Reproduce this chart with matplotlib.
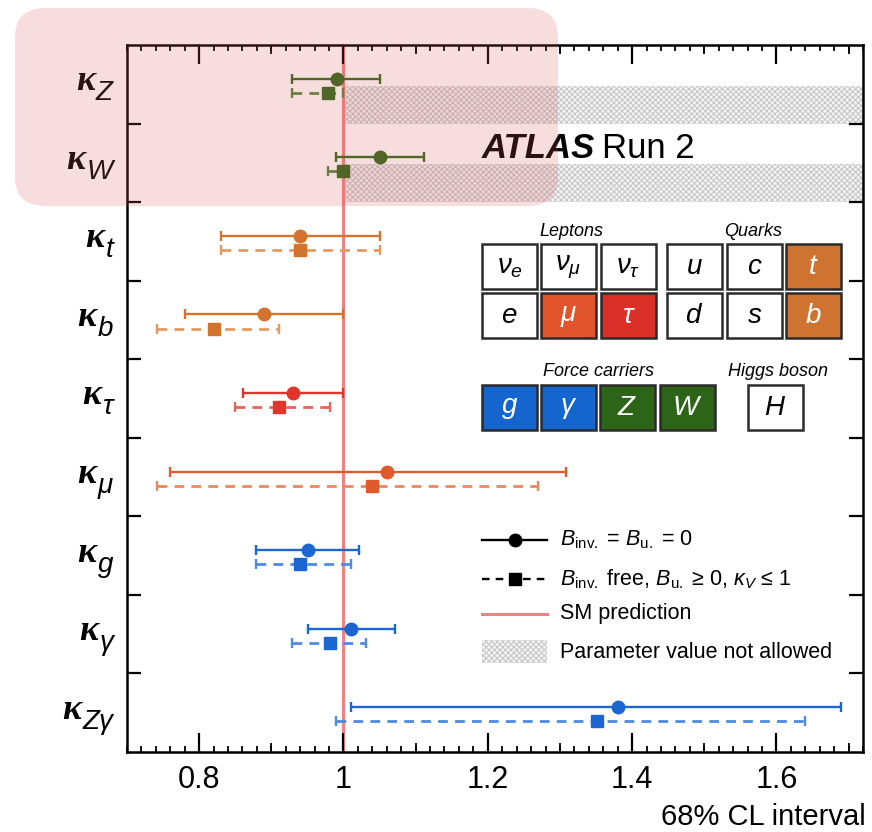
import matplotlib
matplotlib.use("Agg")
import matplotlib.pyplot as plt
import matplotlib.transforms as mtransforms
from matplotlib.patches import Rectangle, FancyBboxPatch
from matplotlib.lines import Line2D

plt.rcParams['font.family'] = ['Liberation Sans', 'DejaVu Sans']
plt.rcParams['mathtext.fontset'] = 'custom'
plt.rcParams['mathtext.rm'] = 'Liberation Sans'
plt.rcParams['mathtext.it'] = 'Liberation Sans:italic'
plt.rcParams['hatch.linewidth'] = 0.7

# coupling modifiers, top to bottom
subs = ['Z', 'W', 't', 'b', 'τ', 'μ', 'g', 'γ', 'Zγ']
# B_inv. = B_u. = 0  (circles)
c_val = [0.991, 1.050, 0.940, 0.890, 0.930, 1.060, 0.951, 1.011, 1.381]
c_lo = [0.929, 0.990, 0.830, 0.780, 0.861, 0.760, 0.879, 0.951, 1.010]
c_hi = [1.051, 1.111, 1.051, 1.000, 1.000, 1.309, 1.021, 1.072, 1.690]
# B_inv. free, B_u. >= 0, kappa_V <= 1  (squares)
s_val = [0.979, 1.000, 0.940, 0.821, 0.911, 1.040, 0.940, 0.981, 1.351]
s_lo = [0.929, 0.979, 0.830, 0.741, 0.850, 0.741, 0.879, 0.929, 0.990]
s_hi = [1.000, 1.000, 1.051, 0.911, 0.981, 1.269, 1.011, 1.031, 1.640]
# kappa_V <= 1 -> values above 1 not allowed for these
not_allowed = ['Z', 'W']

green, orange, red, muorange, blue = '#2f6a1a', '#d2732f', '#e0352b', '#e05a2b', '#1b66d0'
colors = [green, green, orange, orange, red, muorange, blue, blue, blue]
dash_colors = ['#4f8a3a', '#4f8a3a', '#e39a62', '#e39a62', '#e8625a', '#ea8a5e', '#4d8ae0', '#4d8ae0', '#4d8ae0']

# particle table
lepton_top = ['$\\nu_e$', '$\\nu_\\mu$', '$\\nu_\\tau$']
lepton_bot = ['$e$', '$\\mu$', '$\\tau$']
quark_top = ['$u$', '$c$', '$t$']
quark_bot = ['$d$', '$s$', '$b$']
forces = ['$g$', '$\\gamma$', '$Z$', '$W$']
higgs = ['$H$']
lepton_top_c = ['white', 'white', 'white']
lepton_bot_c = ['white', '#e2552c', '#db3028']
quark_top_c = ['white', 'white', '#cf7330']
quark_bot_c = ['white', 'white', '#cf7330']
forces_c = ['#1565cf', '#1565cf', '#2c6518', '#2c6518']
higgs_c = ['white']

W, H = 872, 832
fig = plt.figure(figsize=(W / 100, H / 100), dpi=100)
ax = fig.add_axes([127 / W, 1 - 752 / H, 736 / W, 707 / H])

n = len(subs)
ycent = [n - 0.5 - i for i in range(n)]

ax.axvline(1.0, color='#f08282', lw=2.2, zorder=1)

for i in range(n):
    yc = ycent[i]
    ax.errorbar(c_val[i], yc + 0.07, xerr=[[c_val[i] - c_lo[i]], [c_hi[i] - c_val[i]]],
                fmt='o', color=colors[i], ms=9, lw=1.7, capsize=3.5, capthick=1.7, zorder=4)
    eb = ax.errorbar(s_val[i], yc - 0.11, xerr=[[s_val[i] - s_lo[i]], [s_hi[i] - s_val[i]]],
                     fmt='s', color=colors[i], ecolor=dash_colors[i], ms=9, lw=2.0,
                     capsize=3.5, capthick=1.7, zorder=4)
    eb[2][0].set_linestyle((0, (3.5, 2.6)))

xmin, xmax = 0.70, 1.72
for i, s in enumerate(subs):
    if s in not_allowed:
        ax.add_patch(Rectangle((1.0, ycent[i] - 0.5), xmax - 1.0, 0.48, facecolor='#f4f4f4',
                               edgecolor='#c4c4c4', hatch='xxxxxx', lw=0, zorder=0.5))

ax.set_xlim(xmin, xmax)
ax.set_ylim(0, n)
ax.set_xticks([0.8, 1.0, 1.2, 1.4, 1.6])
ax.set_xticklabels(['0.8', '1', '1.2', '1.4', '1.6'])
ax.set_xticks([0.70 + 0.02 * k for k in range(52)], minor=True)
ax.set_yticks(range(1, n))
ax.tick_params(axis='x', which='major', direction='in', length=14, width=1.6, top=True,
               labelsize=22, pad=9)
ax.tick_params(axis='x', which='minor', direction='in', length=4.5, width=1.3, top=True)
ax.tick_params(axis='y', which='major', direction='in', length=10, width=1.6, right=True,
               labelleft=False)
for sp in ax.spines.values():
    sp.set_linewidth(1.8)
# medium ticks at odd tenths
for xv in [0.9, 1.1, 1.3, 1.5, 1.7]:
    ax.vlines(xv, 0, 9 / 707, transform=ax.get_xaxis_transform(), color='black', lw=1.3, clip_on=False)
    ax.vlines(xv, 1 - 9 / 707, 1, transform=ax.get_xaxis_transform(), color='black', lw=1.3, clip_on=False)

# category labels: kappa + subscript, right aligned
renderer = fig.canvas.get_renderer()
base = mtransforms.blended_transform_factory(fig.transFigure, ax.transData)
for i, s in enumerate(subs):
    tsub = fig.text(113 / W, ycent[i], s, transform=mtransforms.offset_copy(base, fig=fig, y=-16, units='dots'),
                    ha='right', va='baseline', fontsize=20, style='italic')
    bb = tsub.get_window_extent(renderer)
    fig.text((bb.x0 - 1) / W, ycent[i], 'κ', transform=mtransforms.offset_copy(base, fig=fig, y=-6, units='dots'),
             ha='right', va='baseline', fontsize=26, style='italic', weight='bold',
             family=['Liberation Serif', 'DejaVu Serif'])

def fx(px):
    return px / W

def fy(py):
    return 1 - py / H

# ATLAS label
t1 = fig.text(fx(482), fy(158), 'ATLAS', fontsize=25, weight='bold', style='italic', va='baseline')
bb = t1.get_window_extent(renderer)
fig.text((bb.x1 + 7) / W, fy(158), 'Run 2', fontsize=25, va='baseline')

# particle table
def boxes(xs, y, labels, cols):
    for x0, lab, c in zip(xs, labels, cols):
        fig.patches.append(Rectangle((fx(x0), fy(y + 45)), 55 / W, 45 / H, transform=fig.transFigure,
                                     facecolor=c, edgecolor='#2a2a2a', lw=1.8, figure=fig))
        fig.text(fx(x0 + 27.5), fy(y + 23), lab, ha='center', va='center', fontsize=20,
                 color='black' if c == 'white' else 'white')

boxes([482, 541, 601], 244, lepton_top, lepton_top_c)
boxes([482, 541, 601], 293, lepton_bot, lepton_bot_c)
boxes([667, 727, 786], 244, quark_top, quark_top_c)
boxes([667, 727, 786], 293, quark_bot, quark_bot_c)
boxes([482, 541, 600, 660], 385, forces, forces_c)
boxes([748], 385, higgs, higgs_c)
fig.text(fx(571), fy(231), 'Leptons', ha='center', va='center', fontsize=13, style='italic')
fig.text(fx(753), fy(231), 'Quarks', ha='center', va='center', fontsize=13, style='italic')
fig.text(fx(598), fy(371), 'Force carriers', ha='center', va='center', fontsize=13, style='italic')
fig.text(fx(778), fy(371), 'Higgs boson', ha='center', va='center', fontsize=13, style='italic')

# legend
lx0, lx1, tx = 482, 547, 560
fig.add_artist(Line2D([fx(lx0), fx(lx1)], [fy(540)] * 2, color='black', lw=1.7, transform=fig.transFigure))
fig.add_artist(Line2D([fx(514.5)], [fy(540)], marker='o', ms=9, color='black', transform=fig.transFigure))
fig.add_artist(Line2D([fx(lx0), fx(lx1)], [fy(579)] * 2, color='black', lw=1.7, ls=(0, (3.2, 2.6)),
                      transform=fig.transFigure))
fig.add_artist(Line2D([fx(514.5)], [fy(579)], marker='s', ms=9, color='black', transform=fig.transFigure))
fig.add_artist(Line2D([fx(lx0), fx(lx1)], [fy(614)] * 2, color='#f08282', lw=2.2, transform=fig.transFigure))
fig.patches.append(Rectangle((fx(lx0), fy(663)), (lx1 - lx0) / W, 23 / H, transform=fig.transFigure,
                             facecolor='#f4f4f4', edgecolor='#c4c4c4', hatch='xxxxxx', lw=0, figure=fig))
fig.text(fx(tx), fy(540), '$B_{\\mathrm{inv.}}$ = $B_{\\mathrm{u.}}$ = 0', va='center', fontsize=15.5)
fig.text(fx(tx), fy(579), '$B_{\\mathrm{inv.}}$ free, $B_{\\mathrm{u.}}$ ≥ 0, $\\kappa_V$ ≤ 1', va='center', fontsize=15.5)
fig.text(fx(tx), fy(614), 'SM prediction', va='center', fontsize=15.5)
fig.text(fx(tx), fy(652), 'Parameter value not allowed', va='center', fontsize=15.5)

fig.text(fx(866), fy(817), '68% CL interval', ha='right', va='center', fontsize=21)

# highlight overlay
fig.patches.append(FancyBboxPatch((fx(15), fy(206)), (558 - 15) / W, (206 - 8) / H,
                                  boxstyle='round,pad=0,rounding_size=0.035', transform=fig.transFigure,
                                  facecolor=(0.85, 0.35, 0.35), alpha=0.2, lw=0, zorder=10, figure=fig))

fig.savefig('out.png', dpi=100)
